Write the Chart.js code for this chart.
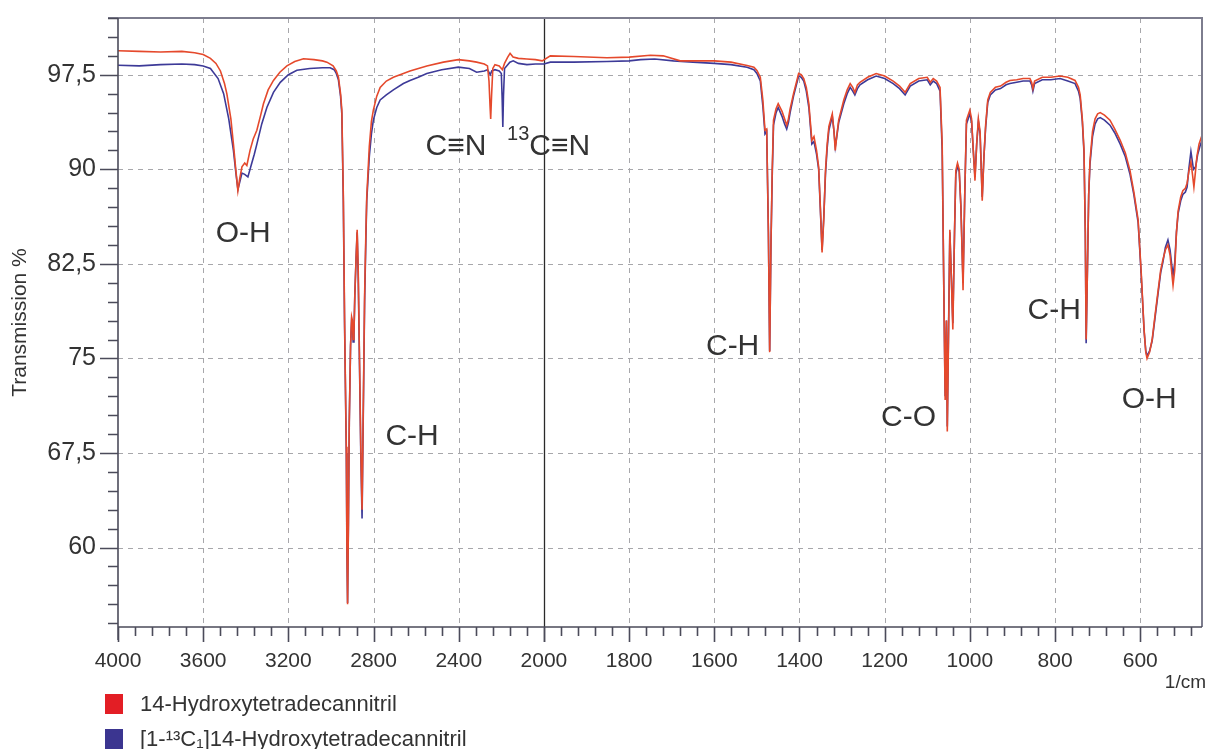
<!DOCTYPE html>
<html lang="de">
<head>
  <meta charset="UTF-8">
  <title>IR-Spektrum 14-Hydroxytetradecannitril</title>
  <script src="https://cdn.jsdelivr.net/npm/chart.js"></script>
  <style>
    body {
      margin: 0;
      background: #fff;
    }
    #wrap {
      width: 1212px;
      height: 749px;
    }
  </style>
</head>
<body>
<div id="wrap"><canvas id="irChart" width="1212" height="749"></canvas></div>

<script>
// --- data (wavenumber 1/cm, transmission %) ---
const seriesLabels = ['14-Hydroxytetradecannitril', '[1-\u00B9\u00B3C\u2081]14-Hydroxytetradecannitril'];

const redPoints = [
  [4000, 99.4], [3900, 99.35], [3800, 99.3], [3700, 99.35], [3640, 99.25], [3600, 99.1], [3566, 98.8], [3540, 98.4],
  [3519, 97.8], [3500, 96.8], [3489, 96.0], [3470, 94.0], [3458, 92.0], [3447, 90.0], [3437, 88.3], [3428, 89.3],
  [3418, 90.2], [3405, 90.5], [3395, 90.3], [3380, 91.5], [3365, 92.4], [3348, 93.1], [3330, 94.3], [3317, 95.2],
  [3295, 96.3], [3270, 97.05], [3240, 97.7], [3207, 98.2], [3170, 98.55], [3129, 98.77], [3080, 98.7], [3040, 98.6],
  [3019, 98.5], [2990, 98.2], [2975, 97.8], [2965, 97.3], [2955, 96.0], [2949, 94.7], [2942, 88.0], [2936, 78.0],
  [2933, 74.0], [2928, 68], [2925, 60], [2922, 55.5], [2918, 62], [2914, 70], [2908, 76], [2903, 78.3],
  [2899, 78.0], [2896, 76.5], [2892, 77.0], [2888, 80], [2882, 83], [2877, 85.2], [2872, 82], [2866, 75],
  [2860, 68], [2854, 63.0], [2849, 70], [2842, 80], [2836, 85], [2832, 87.8], [2820, 91.8], [2810, 93.8],
  [2801, 94.7], [2785, 95.8], [2769, 96.5], [2740, 97.0], [2707, 97.3], [2660, 97.6], [2629, 97.8], [2550, 98.2],
  [2472, 98.5], [2402, 98.7], [2350, 98.6], [2316, 98.5], [2280, 98.35], [2265, 98.2], [2258, 97.0], [2253, 95.0],
  [2250, 94.0], [2246, 95.8], [2240, 98.0], [2230, 98.3], [2210, 98.2], [2195, 97.9], [2185, 98.4], [2170, 98.9],
  [2159, 99.2], [2145, 98.9], [2120, 98.8], [2080, 98.75], [2040, 98.7], [2008, 98.6], [1985, 99.0], [1930, 98.95],
  [1852, 98.85], [1800, 98.9], [1750, 99.05], [1720, 99.0], [1680, 98.6], [1600, 98.6], [1561, 98.5], [1523, 98.24],
  [1507, 98.1], [1500, 97.84], [1492, 97.3], [1486, 95.5], [1481, 93.1], [1477, 93.2], [1473, 85], [1470, 75.5],
  [1467, 84], [1464, 90], [1461, 93.9], [1455, 94.8], [1450, 95.2], [1441, 94.6], [1435, 94.0], [1430, 93.5],
  [1426, 94.0], [1422, 94.8], [1414, 96.0], [1402, 97.6], [1396, 97.5], [1390, 97.2], [1384, 96.5], [1378, 95.2],
  [1371, 92.3], [1366, 92.6], [1360, 91.5], [1355, 90.2], [1351, 87], [1347, 83.4], [1343, 86], [1339, 89.9],
  [1335, 92], [1331, 93.4], [1323, 94.4], [1319, 93], [1316, 91.5], [1312, 92.8], [1308, 93.9], [1296, 95.5],
  [1288, 96.3], [1281, 96.8], [1275, 96.5], [1270, 96.1], [1264, 96.7], [1258, 96.9], [1240, 97.3], [1220, 97.6],
  [1200, 97.4], [1180, 97.0], [1165, 96.6], [1152, 96.1], [1140, 96.8], [1120, 97.2], [1100, 97.3], [1093, 96.9],
  [1086, 97.2], [1078, 97.0], [1070, 96.5], [1065, 92], [1061, 80], [1058, 71.7], [1055, 78], [1053, 69.2],
  [1050, 77], [1047, 85.2], [1044, 82], [1040, 77.3], [1036, 85], [1033, 89.9], [1029, 90.5], [1025, 90],
  [1021, 87], [1016, 80.4], [1012, 88], [1008, 93.9], [1004, 94.3], [1000, 94.7], [996, 94], [992, 91.5],
  [988, 89.1], [984, 92], [980, 94.0], [976, 93], [971, 87.5], [967, 91], [963, 93.5], [958, 95.5],
  [952, 96.1], [940, 96.5], [928, 96.6], [915, 96.9], [906, 97.05], [890, 97.1], [875, 97.2], [859, 97.2],
  [855, 96.9], [852, 96.4], [848, 97.0], [830, 97.3], [810, 97.3], [788, 97.4], [770, 97.3], [753, 97.05],
  [745, 96.5], [741, 95.9], [736, 94], [732, 91.5], [729, 85], [727, 76.5], [724, 82], [721, 88],
  [718, 90.7], [712, 93], [706, 94.0], [700, 94.4], [694, 94.5], [684, 94.3], [671, 93.9], [660, 93.2],
  [647, 92.3], [635, 91.3], [624, 89.9], [615, 88.2], [605, 86.0], [598, 82], [591, 77.3], [587, 75.5],
  [584, 75.0], [578, 75.5], [572, 76.5], [565, 78.5], [558, 80.4], [552, 82], [547, 82.8], [541, 83.6],
  [535, 84.0], [530, 83.2], [526, 81.8], [523, 80.8], [519, 82], [515, 85], [511, 86.7], [505, 87.8],
  [500, 88.3], [494, 88.5], [490, 88.9], [486, 89.8], [481, 90.6], [477, 89.5], [474, 88.6], [471, 89.6],
  [467, 91.0], [462, 92.0], [456, 92.6]
];

const bluePoints = [
  [4000, 98.25], [3900, 98.2], [3800, 98.3], [3700, 98.35], [3640, 98.3], [3600, 98.2], [3566, 98.0], [3530, 97.2],
  [3504, 96.0], [3480, 94.0], [3458, 91.5], [3447, 89.8], [3437, 88.4], [3428, 89.0], [3418, 89.7], [3405, 89.6],
  [3390, 89.4], [3375, 90.3], [3360, 91.2], [3348, 92.0], [3325, 93.6], [3301, 94.9], [3270, 96.1], [3238, 96.9],
  [3200, 97.5], [3160, 97.85], [3100, 98.0], [3040, 98.05], [3004, 98.05], [2985, 97.9], [2975, 97.6], [2965, 97.1],
  [2955, 95.8], [2949, 94.4], [2942, 87.5], [2936, 77.5], [2933, 73.8], [2928, 67.5], [2925, 59.5], [2922, 55.6],
  [2918, 62], [2914, 70], [2908, 76], [2903, 78.0], [2899, 77.8], [2896, 76.3], [2892, 77.0], [2888, 80],
  [2882, 83], [2877, 85.0], [2872, 81.5], [2866, 74.5], [2860, 67.5], [2854, 62.3], [2849, 69.5], [2842, 79.5],
  [2836, 84.5], [2832, 87.5], [2820, 91.0], [2810, 92.8], [2801, 93.9], [2785, 94.9], [2769, 95.5], [2740, 95.9],
  [2707, 96.3], [2660, 96.8], [2629, 97.05], [2590, 97.3], [2550, 97.6], [2480, 97.9], [2402, 98.1], [2350, 98.0],
  [2316, 97.7], [2280, 97.8], [2265, 97.9], [2252, 97.5], [2245, 97.8], [2230, 97.9], [2210, 97.8], [2200, 97.6],
  [2196, 95.5], [2193, 93.35], [2190, 95.8], [2185, 98.0], [2175, 98.2], [2160, 98.5], [2144, 98.6], [2120, 98.4],
  [2080, 98.3], [2040, 98.35], [2000, 98.35], [1985, 98.5], [1930, 98.5], [1852, 98.55], [1800, 98.6], [1773, 98.7],
  [1740, 98.75], [1696, 98.6], [1650, 98.5], [1600, 98.4], [1561, 98.3], [1523, 98.1], [1507, 97.9], [1500, 97.6],
  [1492, 97.0], [1486, 95.0], [1481, 92.8], [1477, 93.0], [1473, 85], [1470, 75.6], [1467, 84], [1464, 89.5],
  [1461, 93.5], [1455, 94.5], [1450, 94.9], [1441, 94.2], [1435, 93.6], [1430, 93.2], [1426, 93.7], [1422, 94.5],
  [1414, 95.8], [1402, 97.4], [1396, 97.3], [1390, 97.0], [1384, 96.2], [1378, 94.9], [1371, 92.0], [1366, 92.2],
  [1360, 91.2], [1355, 90.0], [1351, 86.8], [1347, 83.6], [1343, 86.2], [1339, 89.6], [1335, 91.7], [1331, 93.1],
  [1323, 94.2], [1319, 93.0], [1316, 91.8], [1312, 92.7], [1308, 93.7], [1296, 95.2], [1288, 96.0], [1281, 96.5],
  [1275, 96.2], [1270, 95.9], [1264, 96.4], [1258, 96.7], [1240, 97.1], [1220, 97.4], [1200, 97.2], [1180, 96.8],
  [1165, 96.4], [1152, 95.9], [1140, 96.6], [1120, 97.0], [1100, 97.1], [1093, 96.7], [1086, 97.0], [1078, 96.8],
  [1070, 96.2], [1065, 91.5], [1061, 80], [1058, 72], [1055, 78], [1053, 69.6], [1050, 77.5], [1047, 85],
  [1044, 82], [1040, 77.8], [1036, 85], [1033, 89.6], [1029, 90.3], [1025, 89.8], [1021, 87], [1016, 81],
  [1012, 88], [1008, 93.6], [1004, 94.0], [1000, 94.4], [996, 93.8], [992, 91.5], [988, 89.4], [984, 92],
  [980, 93.8], [976, 92.8], [971, 87.8], [967, 91], [963, 93.3], [958, 95.3], [952, 95.9], [940, 96.3],
  [928, 96.4], [915, 96.7], [906, 96.8], [890, 96.9], [875, 97.0], [859, 97.0], [855, 96.7], [852, 96.2],
  [848, 96.8], [830, 97.1], [810, 97.1], [788, 97.2], [770, 97.0], [753, 96.8], [745, 96.2], [741, 95.6],
  [736, 93.8], [732, 91.3], [729, 85], [727, 76.2], [724, 82], [721, 88], [718, 90.4], [712, 92.6],
  [706, 93.6], [700, 94.0], [694, 94.1], [684, 93.9], [671, 93.5], [660, 92.9], [647, 92.0], [635, 91.0],
  [624, 89.6], [615, 88.0], [605, 85.8], [598, 81.8], [591, 77.2], [587, 75.6], [584, 75.2], [578, 75.6],
  [572, 76.4], [565, 78.3], [558, 80.2], [552, 81.8], [547, 82.6], [541, 83.8], [535, 84.4], [530, 83.6],
  [526, 82.4], [523, 81.6], [519, 82.6], [515, 85], [511, 86.5], [505, 87.5], [500, 88.0], [494, 88.2],
  [490, 88.6], [486, 90], [481, 91.4], [475, 90.0], [470, 90.2], [465, 91.2], [460, 91.8], [456, 92.2]
];

const yTicks = [60, 67.5, 75, 82.5, 90, 97.5];
const xTicksLeft = [4000, 3600, 3200, 2800, 2400, 2000];
const xTicksRight = [1800, 1600, 1400, 1200, 1000, 800, 600];
const xUnit = '1/cm';

// band assignments, anchored in data coordinates
const bandLabels = ['O-H', 'C-H', 'C\u2261N', 'C\u2261N', 'C-H', 'C-O', 'C-H', 'O-H'];
const bandWn = [3412, 2619, 2413, 1963, 1557, 1144, 802, 579];
const bandT = [84.9, 68.8, 91.8, 91.8, 75.9, 70.3, 78.8, 71.7];

const lineColors = ['#e5492c', '#3d3a98'];
const legendColors = ['#e31e25', '#3b3590'];
const textColor = '#333';
const fontFamily = '"Liberation Sans", Arial, sans-serif';

// the spectrometer stretches the axis by 2 below 2000 1/cm
function axisPos(wn) {
  return wn > 2000 ? 2000 + (wn - 2000) / 2 : wn;
}
function axisWn(u) {
  return u > 2000 ? 2000 + (u - 2000) * 2 : u;
}

const irPlugin = {
  id: 'irAxes',
  beforeDatasetsDraw(chart) {
    const {ctx, chartArea: a, scales: {x, y}} = chart;
    ctx.save();
    ctx.strokeStyle = '#a7a7ab';
    ctx.lineWidth = 1;
    ctx.setLineDash([5, 5]);
    ctx.beginPath();
    xTicksLeft.concat(xTicksRight).forEach(wn => {
      if (wn === 4000 || wn === 2000) return;
      const px = Math.round(x.getPixelForValue(axisPos(wn))) + 0.5;
      ctx.moveTo(px, a.top);
      ctx.lineTo(px, a.bottom);
    });
    yTicks.forEach(t => {
      const py = Math.round(y.getPixelForValue(t)) + 0.5;
      ctx.moveTo(a.left, py);
      ctx.lineTo(a.right, py);
    });
    ctx.stroke();
    ctx.setLineDash([]);

    // solid marker where the scale changes
    const p2000 = Math.round(x.getPixelForValue(axisPos(2000))) + 0.5;
    ctx.strokeStyle = '#2a2a2a';
    ctx.lineWidth = 1.3;
    ctx.beginPath();
    ctx.moveTo(p2000, a.top);
    ctx.lineTo(p2000, a.bottom + 15);
    ctx.stroke();
    ctx.restore();
  },
  afterDatasetsDraw(chart) {
    const {ctx, chartArea: a, scales: {x, y}} = chart;
    ctx.save();

    // top and right frame
    ctx.strokeStyle = '#7d7d8e';
    ctx.lineWidth = 2;
    ctx.beginPath();
    ctx.moveTo(a.left - 10, a.top);
    ctx.lineTo(a.right, a.top);
    ctx.lineTo(a.right, a.bottom);
    ctx.stroke();

    // axes
    ctx.strokeStyle = '#4b4b5a';
    ctx.lineWidth = 1.6;
    ctx.beginPath();
    ctx.moveTo(a.left, a.top);
    ctx.lineTo(a.left, a.bottom + 13);
    ctx.moveTo(a.left, a.bottom);
    ctx.lineTo(a.right, a.bottom);

    // x ticks: every 80 above 2000, every 40 below
    const majors = xTicksLeft.concat(xTicksRight);
    const xMinor = [];
    for (let wn = 4000; wn > 2000; wn -= 80) xMinor.push(wn);
    for (let wn = 2000; wn >= 456; wn -= 40) xMinor.push(wn);
    xMinor.forEach(wn => {
      const px = Math.round(x.getPixelForValue(axisPos(wn))) + 0.5;
      const len = majors.includes(wn) ? 15 : 9;
      ctx.moveTo(px, a.bottom);
      ctx.lineTo(px, a.bottom + len);
    });

    // y ticks: every 1.5 %
    for (let k = 0; k <= 32; k++) {
      const v = 54 + 1.5 * k;
      const py = Math.round(y.getPixelForValue(v)) + 0.5;
      const len = yTicks.includes(v) ? 18 : 10;
      ctx.moveTo(a.left, py);
      ctx.lineTo(a.left - len, py);
    }
    ctx.stroke();

    // band labels
    ctx.fillStyle = textColor;
    ctx.textAlign = 'center';
    ctx.textBaseline = 'middle';
    ctx.font = '30px ' + fontFamily;
    bandLabels.forEach((txt, i) => {
      const px = x.getPixelForValue(axisPos(bandWn[i]));
      const py = y.getPixelForValue(bandT[i]);
      ctx.fillText(txt, px, py);
      if (i === 3) {
        // isotope mark
        const w = ctx.measureText(txt).width;
        ctx.font = '20px ' + fontFamily;
        ctx.textAlign = 'right';
        ctx.fillText('13', px - w / 2, py - 12);
        ctx.font = '30px ' + fontFamily;
        ctx.textAlign = 'center';
      }
    });

    // unit, below the right end of the x axis
    ctx.font = '19px ' + fontFamily;
    ctx.textAlign = 'right';
    ctx.fillText(xUnit, a.right + 4, a.bottom + 56);
    ctx.restore();
  },
  afterDraw(chart) {
    const {ctx} = chart;
    ctx.save();
    ctx.font = '22px ' + fontFamily;
    ctx.textBaseline = 'middle';
    ctx.textAlign = 'left';
    chart.data.datasets.forEach((ds, i) => {
      const top = 694 + i * 35;
      ctx.fillStyle = legendColors[i];
      ctx.fillRect(105, top, 18, 20);
      ctx.fillStyle = textColor;
      ctx.fillText(ds.label, 140, top + 11);
    });
    ctx.restore();
  }
};

const toXY = pts => pts.map(p => ({x: axisPos(p[0]), y: p[1]}));

new Chart(document.getElementById('irChart'), {
  type: 'line',
  data: {
    datasets: [
      {
        label: seriesLabels[0],
        data: toXY(redPoints),
        borderColor: lineColors[0],
        borderWidth: 1.6,
        pointRadius: 0,
        tension: 0
      },
      {
        label: seriesLabels[1],
        data: toXY(bluePoints),
        borderColor: lineColors[1],
        borderWidth: 1.6,
        pointRadius: 0,
        tension: 0
      }
    ]
  },
  options: {
    responsive: false,
    animation: false,
    devicePixelRatio: 1,
    layout: {
      padding: {top: 18, right: 10, bottom: 50, left: 0}
    },
    plugins: {
      legend: {display: false},
      tooltip: {enabled: false}
    },
    scales: {
      x: {
        type: 'linear',
        reverse: true,
        min: axisPos(455),
        max: axisPos(4000),
        afterBuildTicks: s => {
          s.ticks = xTicksLeft.concat(xTicksRight).map(wn => ({value: axisPos(wn)}));
        },
        afterFit: s => {
          s.height = 72;
          s.paddingLeft = 0;
          s.paddingRight = 0;
        },
        grid: {display: false, drawTicks: false},
        border: {display: false},
        ticks: {
          autoSkip: false,
          maxRotation: 0,
          padding: 22,
          color: textColor,
          font: {size: 21, family: fontFamily},
          callback: v => String(Math.round(axisWn(v)))
        }
      },
      y: {
        type: 'linear',
        min: 53.7,
        max: 102,
        afterBuildTicks: s => {
          s.ticks = yTicks.map(v => ({value: v}));
        },
        afterFit: s => {
          s.width = 118;
          s.paddingTop = 0;
          s.paddingBottom = 0;
        },
        grid: {display: false, drawTicks: false},
        border: {display: false},
        ticks: {
          padding: 22,
          color: textColor,
          font: {size: 25, family: fontFamily},
          callback: v => String(v).replace('.', ',')
        },
        title: {
          display: true,
          text: 'Transmission %',
          color: textColor,
          font: {size: 21, family: fontFamily},
          padding: {top: 8, bottom: 0}
        }
      }
    }
  },
  plugins: [irPlugin]
});
</script>
</body>
</html>
